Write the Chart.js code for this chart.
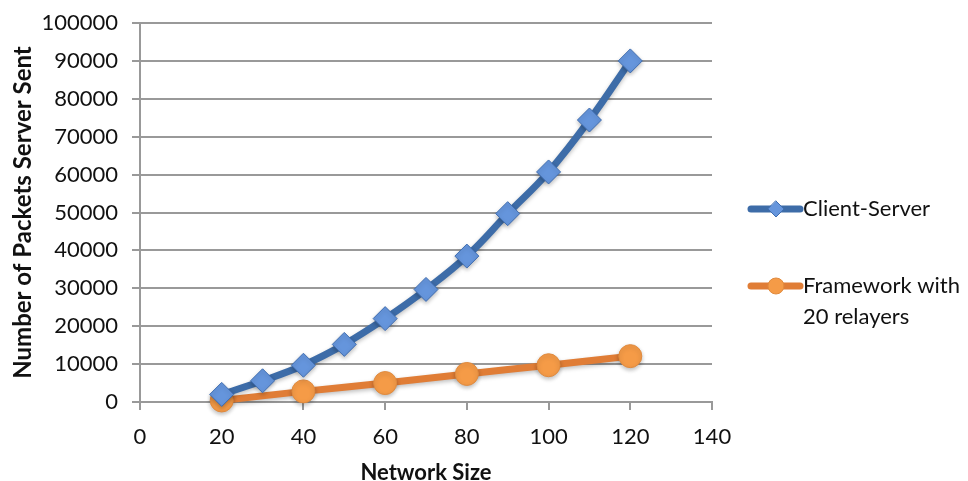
<!DOCTYPE html>
<html>
<head>
<meta charset="utf-8">
<script src="https://cdn.jsdelivr.net/npm/chart.js@4/dist/chart.umd.min.js"></script>
<style>
  html, body { margin: 0; padding: 0; background: #ffffff; }
  #wrap { width: 968px; height: 481px; position: relative; }
</style>
</head>
<body>
<div id="wrap"><canvas id="c" width="968" height="481"></canvas></div>
<script>
// Packets sent by the server as the network grows
const clientServerSizes = [20, 30, 40, 50, 60, 70, 80, 90, 100, 110, 120];
const clientServerPackets = [2000, 5600, 9700, 15200, 22000, 29700, 38500, 49700, 60700, 74400, 90000];

const frameworkSizes = [20, 40, 60, 80, 100, 120];
const frameworkPackets = [400, 2800, 5000, 7400, 9700, 12100];

const seriesNames = ['Client-Server', ['Framework with', '20 relayers']];
const xTitle = 'Network Size';
const yTitle = 'Number of Packets Server Sent';

const FONT = 'Lato, "Liberation Sans", sans-serif';
const GRID = '#999999';

const toPoints = (xs, ys) => xs.map((x, i) => ({ x: x, y: ys[i] }));

// Legend drawn at the right of the plot, with wrapped labels
const sideLegend = {
  id: 'sideLegend',
  afterDraw(chart) {
    const ctx = chart.ctx;
    const rows = [209, 286];
    chart.data.datasets.forEach((ds, i) => {
      const y = rows[i];
      const cx = 776;
      const r = 8;
      ctx.save();
      ctx.strokeStyle = ds.borderColor;
      ctx.lineWidth = 7;
      ctx.lineCap = 'round';
      ctx.beginPath();
      ctx.moveTo(751, y);
      ctx.lineTo(800, y);
      ctx.stroke();
      ctx.fillStyle = ds.pointBackgroundColor;
      ctx.strokeStyle = ds.pointBorderColor;
      ctx.lineWidth = 1;
      ctx.beginPath();
      if (ds.pointStyle === 'rectRot') {
        ctx.moveTo(cx, y - r); ctx.lineTo(cx + r, y); ctx.lineTo(cx, y + r); ctx.lineTo(cx - r, y); ctx.closePath();
      } else {
        ctx.arc(cx, y, r, 0, Math.PI * 2);
      }
      ctx.fill(); ctx.stroke();
      ctx.fillStyle = '#111111';
      ctx.font = '22px ' + FONT;
      ctx.textBaseline = 'middle';
      const lines = Array.isArray(seriesNames[i]) ? seriesNames[i] : [seriesNames[i]];
      lines.forEach((t, k) => ctx.fillText(t, 803, y + k * 31));
      ctx.restore();
    });
  }
};

// Soft shadow under the lines and markers
const softShadow = {
  id: 'softShadow',
  beforeDatasetsDraw(chart) {
    const ctx = chart.ctx;
    ctx.save();
    ctx.shadowColor = 'rgba(0,0,0,0.25)';
    ctx.shadowBlur = 4;
    ctx.shadowOffsetY = 2;
  },
  afterDatasetsDraw(chart) { chart.ctx.restore(); }
};

new Chart(document.getElementById('c'), {
  type: 'line',
  data: {
    datasets: [
      {
        label: 'Client-Server',
        data: toPoints(clientServerSizes, clientServerPackets),
        borderColor: '#3d6ca8',
        borderWidth: 7,
        tension: 0.4,
        pointStyle: 'rectRot',
        pointRadius: 12,
        pointHoverRadius: 12,
        pointBackgroundColor: '#6595dc',
        pointBorderColor: '#3f6db0',
        pointBorderWidth: 1
      },
      {
        label: 'Framework with 20 relayers',
        data: toPoints(frameworkSizes, frameworkPackets),
        borderColor: '#e07d36',
        borderWidth: 7,
        tension: 0.4,
        pointStyle: 'circle',
        pointRadius: 11.5,
        pointHoverRadius: 11.5,
        pointBackgroundColor: '#f59b47',
        pointBorderColor: '#e08a3e',
        pointBorderWidth: 1
      }
    ]
  },
  options: {
    responsive: false,
    animation: false,
    clip: false,
    layout: { padding: { top: 23, right: 256, left: 0, bottom: 0 } },
    plugins: {
      legend: { display: false },
      tooltip: { enabled: false }
    },
    scales: {
      x: {
        type: 'linear',
        min: 0, max: 140,
        ticks: { stepSize: 20, color: '#111111', font: { family: FONT, size: 22 }, padding: 14 },
        grid: { drawOnChartArea: false, drawTicks: true, tickLength: 8, color: GRID, lineWidth: 2 },
        border: { color: GRID, width: 2 },
        title: { display: true, text: xTitle, color: '#111111', font: { family: FONT, size: 22, weight: 'bold' }, padding: { top: 4, bottom: -5 } },
        afterFit(s) { s.height = 79; }
      },
      y: {
        min: 0, max: 100000,
        ticks: {
          stepSize: 10000, color: '#111111', font: { family: FONT, size: 22 }, padding: 14,
          callback: (v) => String(v)
        },
        grid: { color: GRID, lineWidth: 2, tickLength: 8 },
        border: { color: GRID, width: 2 },
        title: { display: true, text: yTitle, color: '#111111', font: { family: FONT, size: 24, weight: 'bold' }, padding: { top: 9, bottom: 0 } },
        afterFit(s) { s.width = 140; s.paddingTop = 0; s.paddingBottom = 0; }
      }
    }
  },
  plugins: [softShadow, sideLegend]
});
</script>
</body>
</html>
